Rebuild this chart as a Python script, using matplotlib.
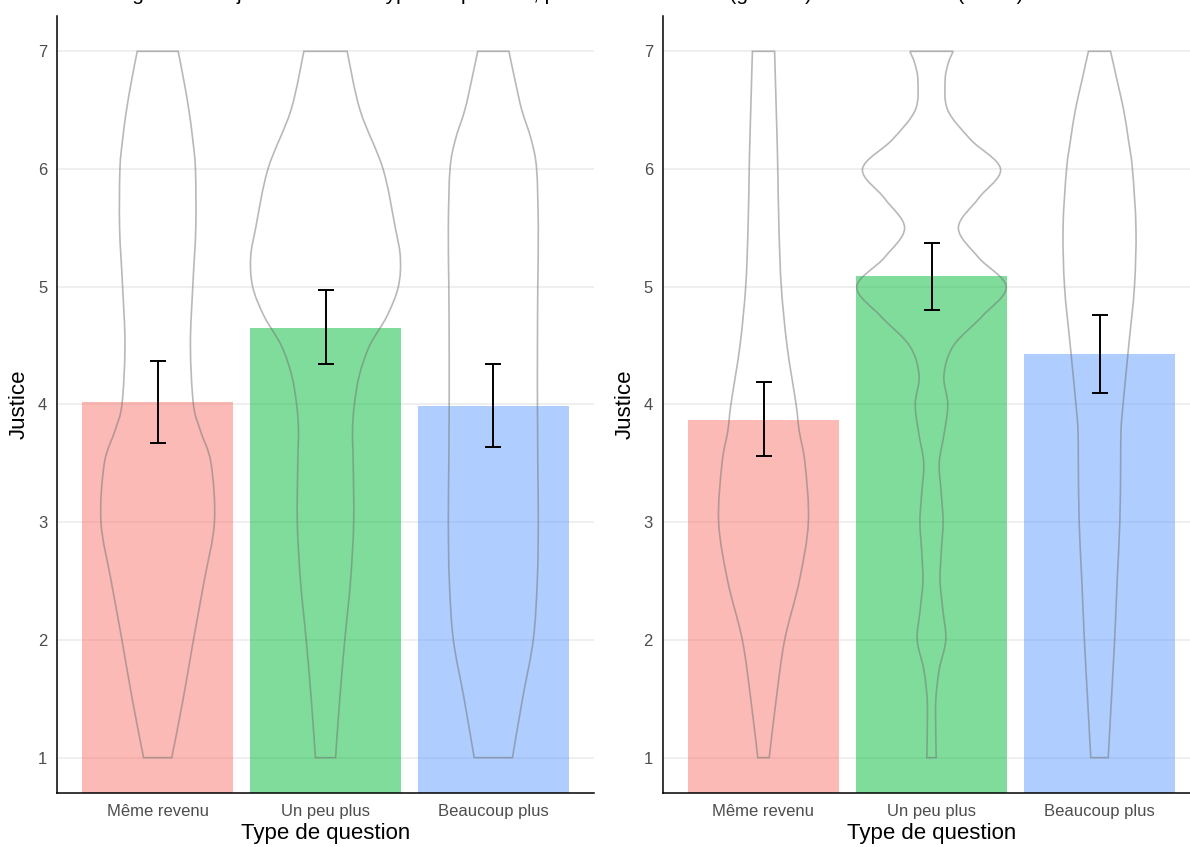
import numpy as np
import matplotlib
matplotlib.use("Agg")
import matplotlib.pyplot as plt
from matplotlib.path import Path
from matplotlib.patches import PathPatch

plt.rcParams['font.family'] = ['Liberation Sans', 'DejaVu Sans']

# catégories et couleurs
categories = ["Même revenu", "Un peu plus", "Beaucoup plus"]
bar_colors = ["#F8766D", "#00BA38", "#619CFF"]

# moyennes et intervalles (gauche / droite)
means_left = [4.02, 4.65, 3.99]
low_left = [3.67, 4.34, 3.64]
high_left = [4.37, 4.97, 4.34]

means_right = [3.87, 5.09, 4.43]
low_right = [3.56, 4.80, 4.10]
high_right = [4.19, 5.37, 4.76]

# profils des violons (demi-largeur, unités de l'axe x)
vy_a = [1.0, 1.5, 2.0, 2.5, 3.0, 3.5, 3.78, 4.0, 4.5, 5.0, 5.5, 6.0, 6.25, 6.5, 6.75, 7.0]
left_red = [0.084, 0.152, 0.213, 0.277, 0.338, 0.318, 0.254, 0.213, 0.195, 0.209, 0.227, 0.225, 0.209, 0.186, 0.156, 0.122]
left_blue = [0.114, 0.174, 0.238, 0.262, 0.268, 0.265, 0.264, 0.263, 0.263, 0.265, 0.268, 0.258, 0.226, 0.170, 0.130, 0.093]
right_red = [0.034, 0.076, 0.126, 0.213, 0.267, 0.247, 0.212, 0.194, 0.140, 0.106, 0.092, 0.085, 0.081, 0.076, 0.071, 0.066]
right_blue = [0.052, 0.071, 0.090, 0.105, 0.121, 0.126, 0.128, 0.140, 0.174, 0.208, 0.217, 0.196, 0.172, 0.144, 0.105, 0.066]

vy_b = [1.0, 1.5, 2.0, 2.5, 3.0, 3.5, 3.78, 4.0, 4.25, 4.5, 4.75, 5.0, 5.25, 5.5, 6.0, 6.5, 7.0]
left_green = [0.060, 0.085, 0.115, 0.149, 0.168, 0.165, 0.161, 0.172, 0.202, 0.263, 0.366, 0.434, 0.446, 0.416, 0.343, 0.206, 0.129]

vy_c = [1.0, 1.25, 1.5, 1.75, 2.0, 2.25, 2.5, 2.75, 3.0, 3.25, 3.5, 3.75, 4.0, 4.25, 4.5,
        4.75, 5.0, 5.25, 5.5, 5.75, 6.0, 6.25, 6.5, 6.75, 6.9, 7.0]
right_green = [0.028, 0.025, 0.026, 0.046, 0.085, 0.068, 0.051, 0.058, 0.069, 0.058, 0.046, 0.075,
               0.097, 0.074, 0.131, 0.302, 0.445, 0.279, 0.160, 0.279, 0.411, 0.233, 0.097, 0.081,
               0.100, 0.129]

violins_left = [(vy_a, left_red), (vy_b, left_green), (vy_a, left_blue)]
violins_right = [(vy_a, right_red), (vy_c, right_green), (vy_a, right_blue)]

W, H = 1190, 847
fig = plt.figure(figsize=(W / 100, H / 100), dpi=100)
bottom = 1 - 793 / H
height = (793 - 16) / H
ax1 = fig.add_axes([57 / W, bottom, 537 / W, height])
ax2 = fig.add_axes([662.7 / W, bottom, 537.6 / W, height])


def smooth_side(pts):
    # segments de Bézier passant par les points mesurés (Catmull-Rom)
    verts, codes = [], []
    n = len(pts)
    for i in range(n - 1):
        p0 = pts[max(i - 1, 0)]
        p1 = pts[i]
        p2 = pts[i + 1]
        p3 = pts[min(i + 2, n - 1)]
        c1 = p1 + (p2 - p0) / 6
        c2 = p2 - (p3 - p1) / 6
        verts += [c1, c2, p2]
        codes += [Path.CURVE4] * 3
    return verts, codes


def violin_path(xc, vy, hw):
    vy = np.array(vy)
    hw = np.array(hw)
    left = np.column_stack([xc - hw, vy])
    right = np.column_stack([xc + hw, vy])[::-1]
    verts = [left[0]]
    codes = [Path.MOVETO]
    v, c = smooth_side(left)
    verts += v
    codes += c
    verts.append(right[0])
    codes.append(Path.LINETO)
    v, c = smooth_side(right)
    verts += v
    codes += c
    verts.append(left[0])
    codes.append(Path.CLOSEPOLY)
    return Path(verts, codes)


def draw_panel(ax, means, lo, hi, violins):
    x = np.arange(1, len(categories) + 1)
    for yv in range(1, 8):
        ax.axhline(yv, color="#EBEBEB", lw=1.1, zorder=0)
    ax.bar(x, means, width=0.9, color=bar_colors, alpha=0.5, zorder=1)
    for xi, (vy, hw) in zip(x, violins):
        patch = PathPatch(violin_path(xi, vy, hw), fill=False, edgecolor="0.45",
                          alpha=0.5, lw=1.2, zorder=2)
        ax.add_patch(patch)
    means = np.array(means)
    yerr = [means - np.array(lo), np.array(hi) - means]
    ax.errorbar(x, means, yerr=yerr, fmt="none", ecolor="black",
                elinewidth=1.4, capsize=6, capthick=1.4, zorder=3)
    ax.set_xlim(0.4, 3.6)
    ax.set_ylim(0.7, 7.3)
    ax.set_xticks(x)
    ax.set_xticklabels(categories)
    ax.set_yticks(range(1, 8))
    ax.tick_params(length=0, labelsize=12, labelcolor="#4D4D4D")
    ax.tick_params(axis="y", pad=7)
    ax.tick_params(axis="x", pad=8)
    for s in ["top", "right"]:
        ax.spines[s].set_visible(False)
    for s in ["left", "bottom"]:
        ax.spines[s].set_linewidth(1.1)
        ax.spines[s].set_color("black")
    ax.set_xlabel("Type de question", fontsize=16, labelpad=3)
    ax.set_ylabel("Justice", fontsize=16, labelpad=6)
    ax.set_facecolor("white")


draw_panel(ax1, means_left, low_left, high_left, violins_left)
draw_panel(ax2, means_right, low_right, high_right, violins_right)

fig.text(110 / W, 1.0,
         "Jugement de justice selon le type de question, pour l'écart modéré (gauche) et l'écart élevé (droite)",
         fontsize=15, ha="left", va="baseline")

fig.savefig("out.png", dpi=100, facecolor="white")
